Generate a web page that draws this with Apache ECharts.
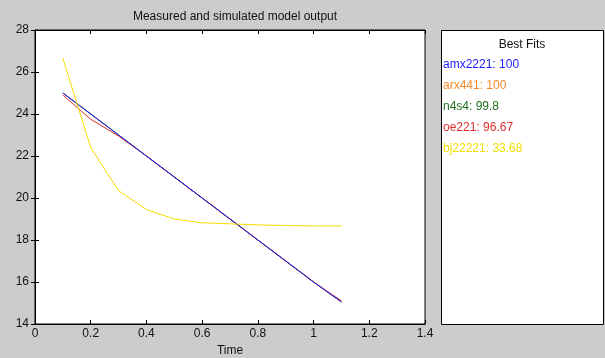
<!DOCTYPE html>
<html><head><meta charset="utf-8">
<script src="https://cdn.jsdelivr.net/npm/echarts@6/dist/echarts.min.js"></script>
<style>html,body{margin:0;padding:0;background:#cccccc}#c{width:605px;height:358px}</style>
</head><body><div id="c"></div>
<script>
var time = [0.1,0.2,0.3,0.4,0.5,0.6,0.7,0.8,0.9,1.0,1.1];
var amx2221 = [25.0,24.0,23.0,22.0,21.0,20.0,19.0,18.0,17.0,16.0,15.05];
var arx441  = [25.0,24.0,23.0,22.0,21.0,20.0,19.0,18.0,17.0,16.0,15.05];
var n4s4    = [25.0,24.0,23.0,22.0,21.0,20.0,19.0,18.0,17.0,16.0,15.05];
var oe221   = [24.9,23.75,22.95,22.0,21.0,20.0,19.0,18.0,17.0,16.0,15.1];
var bj22221 = [26.65,22.4,20.35,19.45,19.0,18.82,18.77,18.72,18.69,18.67,18.67];
var modelNames = ['amx2221','arx441','n4s4','oe221','bj22221'];
var fits = ['100','100','99.8','96.67','33.68'];
var colors = ['#1a1aff','#f58a2a','#1f6f1f','#e02d2d','#f5dc00'];
var xTicks = [0,0.2,0.4,0.6,0.8,1,1.2,1.4];
var yTicks = [14,16,18,20,22,24,26,28];

var allData = [amx2221, arx441, n4s4, oe221, bj22221];
var drawOrder = [1,2,3,0,4];
var series = drawOrder.map(function(i){
  return {type:'line', name:modelNames[i], showSymbol:false, symbol:'none',
    lineStyle:{color:colors[i], width:1}, itemStyle:{color:colors[i]},
    data: time.map(function(t,k){return [t, allData[i][k]];}), z: 2+drawOrder.indexOf(i), animation:false};
});

var graphics = [
  {type:'rect', shape:{x:441.5, y:30.5, width:162, height:294}, style:{fill:'#ffffff', stroke:'#000', lineWidth:1}},
  {type:'text', x:522, y:45, style:{text:'Best Fits', fill:'#111', font:'12px Arial', align:'center', verticalAlign:'middle'}}
];
modelNames.forEach(function(n,i){
  graphics.push({type:'text', x:443, y:65+i*21, style:{text:n+': '+fits[i], fill:colors[i], font:'12px Arial', align:'left', verticalAlign:'middle'}});
});

var chart = echarts.init(document.getElementById('c'));
var axisCommon = {axisLine:{show:true,lineStyle:{color:'#000',width:1}}, axisTick:{show:true,inside:true,length:4,lineStyle:{color:'#000'}}, splitLine:{show:false}};
chart.setOption({
  backgroundColor:'#cccccc',
  animation:false,
  title:{text:'Measured and simulated model output', left:230, top:6, textAlign:'center',
    textStyle:{fontFamily:'Arial', fontSize:12, fontWeight:'normal', color:'#111'}},
  grid:{left:35, right:180, top:30, bottom:34, outerBoundsMode:'none', containLabel:false, show:true, backgroundColor:'#ffffff', borderColor:'#000', borderWidth:1},
  xAxis:[
    Object.assign({type:'value', min:0, max:1.4, interval:0.2, name:'Time', nameLocation:'middle', nameGap:19,
      nameTextStyle:{fontFamily:'Arial', fontSize:12, color:'#111'},
      axisLabel:{fontFamily:'Arial', fontSize:12, color:'#111', margin:4, formatter:function(v){return String(Math.round(v*10)/10);}}}, axisCommon),
    Object.assign({type:'value', min:0, max:1.4, interval:0.2, position:'top', axisLabel:{show:false}}, axisCommon)
  ],
  yAxis:[
    Object.assign({type:'value', min:14, max:28, interval:2,
      axisLabel:{fontFamily:'Arial', fontSize:12, color:'#111', margin:6}}, axisCommon),
    Object.assign({type:'value', min:14, max:28, interval:2, position:'right', axisLabel:{show:false}}, axisCommon)
  ],
  series: series,
  graphic: graphics
});
</script></body></html>
